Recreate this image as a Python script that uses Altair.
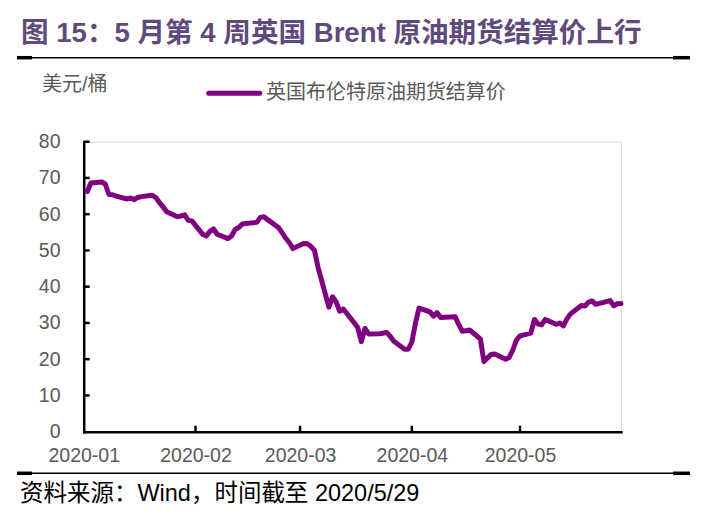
import altair as alt
import pandas as pd

# ---------------- data ----------------
dates = [
    "2020-01-02", "2020-01-03", "2020-01-06", "2020-01-07", "2020-01-08", "2020-01-09", "2020-01-10",
    "2020-01-13", "2020-01-14", "2020-01-15", "2020-01-16", "2020-01-17", "2020-01-20", "2020-01-21",
    "2020-01-22", "2020-01-23", "2020-01-24", "2020-01-27", "2020-01-28", "2020-01-29", "2020-01-30",
    "2020-01-31",
    "2020-02-03", "2020-02-04", "2020-02-05", "2020-02-06", "2020-02-07", "2020-02-10", "2020-02-11",
    "2020-02-12", "2020-02-13", "2020-02-14", "2020-02-17", "2020-02-18", "2020-02-19", "2020-02-20",
    "2020-02-21", "2020-02-24", "2020-02-25", "2020-02-26", "2020-02-27", "2020-02-28",
    "2020-03-02", "2020-03-03", "2020-03-04", "2020-03-05", "2020-03-06", "2020-03-09", "2020-03-10",
    "2020-03-11", "2020-03-12", "2020-03-13", "2020-03-16", "2020-03-17", "2020-03-18", "2020-03-19",
    "2020-03-20", "2020-03-23", "2020-03-24", "2020-03-25", "2020-03-26", "2020-03-27", "2020-03-30",
    "2020-03-31",
    "2020-04-01", "2020-04-02", "2020-04-03", "2020-04-06", "2020-04-07", "2020-04-08", "2020-04-09",
    "2020-04-13", "2020-04-14", "2020-04-15", "2020-04-16", "2020-04-17", "2020-04-20", "2020-04-21",
    "2020-04-22", "2020-04-23", "2020-04-24", "2020-04-27", "2020-04-28", "2020-04-29", "2020-04-30",
    "2020-05-01", "2020-05-04", "2020-05-05", "2020-05-06", "2020-05-07", "2020-05-08", "2020-05-11",
    "2020-05-12", "2020-05-13", "2020-05-14", "2020-05-15", "2020-05-18", "2020-05-19", "2020-05-20",
    "2020-05-21", "2020-05-22", "2020-05-26", "2020-05-27", "2020-05-28", "2020-05-29",
]
prices = [
    66.25, 68.60, 68.91, 68.27, 65.44, 65.37, 64.98, 64.20, 64.49, 64.00, 64.62, 64.85, 65.20, 64.59,
    63.21, 62.04, 60.69, 59.32, 59.51, 59.81, 58.29, 58.16,
    54.45, 53.96, 55.28, 55.93, 54.47, 53.27, 54.01, 55.79, 56.34, 57.32, 57.67, 57.75, 59.12, 59.31,
    58.50, 56.30, 54.95, 53.43, 52.18, 50.52,
    51.90, 51.86, 51.13, 49.99, 45.27, 34.36, 37.22, 35.79, 33.22, 33.85, 30.05, 28.73, 24.88, 28.47,
    26.98, 27.03, 27.15, 27.39, 26.34, 24.93, 22.76, 22.74,
    24.74, 29.94, 34.11, 33.05, 31.87, 32.84, 31.48, 31.74, 29.60, 27.69, 27.82, 28.08, 25.57, 19.33,
    20.37, 21.33, 21.44, 19.99, 20.46, 22.54, 25.27,
    26.44, 27.20, 30.97, 29.72, 29.46, 30.97, 29.63, 29.98, 29.19, 31.13, 32.50, 34.81, 34.65, 35.75,
    36.06, 35.13, 36.17, 34.74, 35.29, 35.33,
]
month_ticks = ["2020-02-01", "2020-03-01", "2020-04-01", "2020-05-01"]
y_ticks = [10, 20, 30, 40, 50, 60, 70, 80]
series_name = "英国布伦特原油期货结算价"
unit_label = "美元/桶"
title_text = "图 15：5 月第 4 周英国 Brent 原油期货结算价上行"
source_text = "资料来源：Wind，时间截至 2020/5/29"

df = pd.DataFrame({"date": dates, "price": prices})
xt = pd.DataFrame({"date": month_ticks})
yt = pd.DataFrame({"price": y_ticks})

# ---------------- layout ----------------
W, H = 537.3, 290
FONT = "Liberation Sans, Noto Sans CJK SC"
GRAY = "#595959"
PURPLE = "#800080"
TITLE_COLOR = "#604A7B"

x_scale = alt.Scale(
    type="utc",
    domain=[alt.DateTime(year=2020, month=1, date=1, utc=True),
            alt.DateTime(year=2020, month=5, date=29, utc=True)],
)
y_scale = alt.Scale(domain=[0, 80], nice=False, zero=True)

x_axis = alt.Axis(
    title=None, grid=False, ticks=False, tickSize=0,
    values=[alt.DateTime(year=2020, month=m, date=1, utc=True) for m in [1, 2, 3, 4, 5]],
    labelExpr="utcFormat(datum.value, '%Y-%m')",
    labelFont=FONT, labelFontSize=19.5, labelColor=GRAY, labelPadding=15,
    labelFlush=False, labelOverlap=False, labelBound=False,
    domainColor="black", domainWidth=2.5, domainCap="square",
)
y_axis = alt.Axis(
    title=None, grid=False, ticks=False, tickSize=0, values=[0, 10, 20, 30, 40, 50, 60, 70, 80],
    labelFont=FONT, labelFontSize=19.5, labelColor=GRAY, labelPadding=23.7,
    labelFlush=False, labelOverlap=False, labelBound=False,
    domainColor="black", domainWidth=2.5, domainCap="square",
)

line = alt.Chart(df).mark_line(
    color=PURPLE, strokeWidth=5, strokeJoin="round", strokeCap="round"
).encode(
    x=alt.X("date:T", scale=x_scale, axis=x_axis),
    y=alt.Y("price:Q", scale=y_scale, axis=y_axis),
)

x_tick_marks = alt.Chart(xt).mark_rule(color="black", strokeWidth=2.5).encode(
    x=alt.X("date:T", scale=x_scale, axis=x_axis),
    y=alt.value(H),
    y2=alt.value(H - 6),
)
y_tick_marks = alt.Chart(yt).mark_rule(color="black", strokeWidth=2.5).encode(
    y=alt.Y("price:Q", scale=y_scale, axis=y_axis),
    x=alt.value(0),
    x2=alt.value(6),
)

def text_layer(txt, x, y, size, color, align="left", weight="normal"):
    return alt.Chart(pd.DataFrame({"t": [txt]})).mark_text(
        align=align, baseline="middle", font=FONT, fontSize=size,
        color=color, fontWeight=weight,
    ).encode(x=alt.value(x), y=alt.value(y), text="t:N")

def hline(x1, x2, y, width):
    return alt.Chart(pd.DataFrame({"a": [0]})).mark_rule(
        color="black", strokeWidth=width
    ).encode(x=alt.value(x1), x2=alt.value(x2), y=alt.value(y))

title = text_layer(title_text, -62.7, -107.5, 27.6, TITLE_COLOR, "left", "bold")

top_rule = hline(-66.7, 606.3, -84, 1.5)
top_stub_l = hline(-66.7, -51.7, -84, 3.5)
top_stub_r = hline(589.3, 606.3, -84, 3.5)
bot_rule = hline(-66.7, 606.3, 331.6, 1.5)
bot_stub_l = hline(-66.7, -51.7, 331.6, 3.5)
bot_stub_r = hline(589.3, 606.3, 331.6, 3.5)

unit = text_layer(unit_label, -41.7, -57, 20, GRAY)
legend_line = alt.Chart(pd.DataFrame({"s": [series_name]})).mark_rule(
    color=PURPLE, strokeWidth=5, strokeCap="round"
).encode(x=alt.value(125), x2=alt.value(176), y=alt.value(-48.4))
legend_text = text_layer(series_name, 182.3, -48.5, 20, GRAY)
source = text_layer(source_text, -63.7, 352, 23.5, "black")

chart = alt.layer(
    line, x_tick_marks, y_tick_marks,
    title,
    top_rule, top_stub_l, top_stub_r, bot_rule, bot_stub_l, bot_stub_r,
    unit, legend_line, legend_text, source,
).properties(
    width=W, height=H,
    autosize=alt.AutoSizeParams(type="none"),
    padding={"left": 75.7, "top": 133.7, "right": 80, "bottom": 78},
).configure_view(stroke=None).configure(background="white")

chart.save("out.html", embed_options={"renderer": "svg", "actions": False})
